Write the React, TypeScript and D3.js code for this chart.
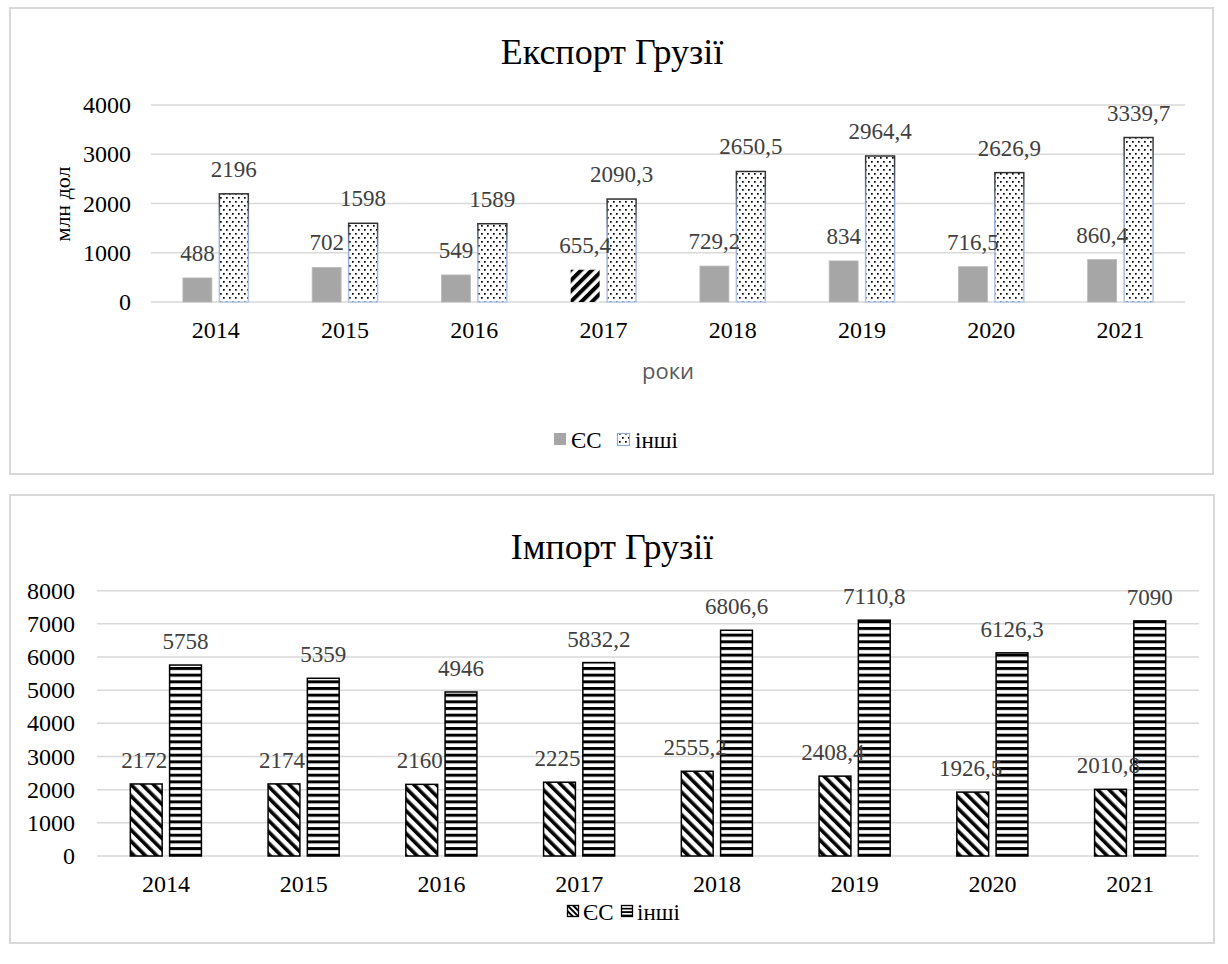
import React from 'react';
import * as d3 from 'd3';

// ---------- DATA ----------
const years: string[] = ['2014', '2015', '2016', '2017', '2018', '2019', '2020', '2021'];
const exportEU: number[] = [488, 702, 549, 655.4, 729.2, 834, 716.5, 860.4];
const exportOther: number[] = [2196, 1598, 1589, 2090.3, 2650.5, 2964.4, 2626.9, 3339.7];
const importEU: number[] = [2172, 2174, 2160, 2225, 2555.2, 2408.4, 1926.5, 2010.8];
const importOther: number[] = [5758, 5359, 4946, 5832.2, 6806.6, 7110.8, 6126.3, 7090];
const exportTicks: number[] = [0, 1000, 2000, 3000, 4000];
const importTicks: number[] = [0, 1000, 2000, 3000, 4000, 5000, 6000, 7000, 8000];
const seriesNames: string[] = ['ЄС', 'інші'];
const exportTitle = 'Експорт Грузії';
const importTitle = 'Імпорт Грузії';
const yAxisTitle = 'млн дол';
const xAxisTitle = 'роки';

const W = 1228;
const H = 964;
const SERIF = '"Liberation Serif", "Times New Roman", serif';
const SANS = '"Open Sans", "Liberation Sans", sans-serif';
const GRID = '#d9d9d9';
const LABEL = '#404040';

const fmt = (v: number) => String(v).replace('.', ',');

export default function App() {
  // ---- export chart scales ----
  const x1 = d3.scaleBand<string>().domain(years).range([151, 1185]).padding(0);
  const y1 = d3.scaleLinear().domain([0, 4000]).range([302, 105]);
  const bw1 = x1.bandwidth() * 0.224;
  const gap1 = x1.bandwidth() * 0.058;

  // ---- import chart scales ----
  const x2 = d3.scaleBand<string>().domain(years).range([97, 1199]).padding(0);
  const y2 = d3.scaleLinear().domain([0, 8000]).range([856, 590.7]);
  const bw2 = x2.bandwidth() * 0.231;
  const gap2 = x2.bandwidth() * 0.054;

  return (
    <svg
      width={W}
      height={H}
      viewBox={`0 0 ${W} ${H}`}
      style={{ position: 'absolute', left: 0, top: 0, background: '#fff' }}
    >
      <defs>
        <pattern id="dots" width={6} height={8} patternUnits="userSpaceOnUse">
          <rect width={6} height={8} fill="#fff" />
          <rect x={1} y={1} width={1.7} height={1.7} fill="#000" />
          <rect x={4} y={5} width={1.7} height={1.7} fill="#000" />
        </pattern>
        <pattern id="upDiag" width={7.5} height={10} patternUnits="userSpaceOnUse" patternTransform="rotate(45)">
          <rect width={7.5} height={10} fill="#fff" />
          <rect width={4} height={10} fill="#000" />
        </pattern>
        <pattern id="downDiag" width={8} height={10} patternUnits="userSpaceOnUse" patternTransform="rotate(-45)">
          <rect width={8} height={10} fill="#fff" />
          <rect width={3.6} height={10} fill="#000" />
        </pattern>
        <pattern id="hStripes" width={8} height={6.67} patternUnits="userSpaceOnUse">
          <rect width={8} height={6.67} fill="#fff" />
          <rect y={0} width={8} height={3} fill="#000" />
        </pattern>
        <pattern id="downDiagSmall" width={4} height={10} patternUnits="userSpaceOnUse" patternTransform="rotate(-45)">
          <rect width={4} height={10} fill="#fff" />
          <rect width={2} height={10} fill="#000" />
        </pattern>
        <pattern id="hStripesSmall" width={8} height={3.4} patternUnits="userSpaceOnUse">
          <rect width={8} height={3.4} fill="#fff" />
          <rect width={8} height={1.7} fill="#000" />
        </pattern>
        <linearGradient id="otherStroke" x1="0" y1="0" x2="0" y2="1">
          <stop offset="0" stopColor="#2f2f2f" />
          <stop offset="0.35" stopColor="#8fa9d8" />
          <stop offset="1" stopColor="#b4c7e7" />
        </linearGradient>
      </defs>

      {/* ============ EXPORT CHART ============ */}
      <rect x={10} y={8} width={1203} height={466} fill="#fff" stroke={GRID} strokeWidth={2} />
      <text x={612} y={64} textAnchor="middle" fontFamily={SERIF} fontSize={36} fill="#000">
        {exportTitle}
      </text>
      {exportTicks.map((t) => (
        <g key={'g1' + t}>
          <line x1={151} x2={1185} y1={y1(t)} y2={y1(t)} stroke={GRID} strokeWidth={1.5} />
          <text x={131} y={y1(t) + 8} textAnchor="end" fontFamily={SERIF} fontSize={24} fill="#000">
            {t}
          </text>
        </g>
      ))}
      <text
        transform={`translate(${70},${204}) rotate(-90)`}
        textAnchor="middle"
        fontFamily={SERIF}
        fontSize={22}
        fill="#000"
      >
        {yAxisTitle}
      </text>
      {years.map((yr, i) => {
        const c = (x1(yr) as number) + x1.bandwidth() / 2;
        const euX = c - gap1 / 2 - bw1;
        const otX = c + gap1 / 2;
        const euTop = y1(exportEU[i]);
        const otTop = y1(exportOther[i]);
        return (
          <g key={'b1' + yr}>
            <rect
              x={euX}
              y={euTop}
              width={bw1}
              height={y1(0) - euTop}
              fill={yr === '2017' ? 'url(#upDiag)' : '#a6a6a6'}
              stroke={yr === '2017' ? 'none' : '#b8b8b8'}
              strokeWidth={0.8}
            />
            <rect
              x={otX}
              y={otTop}
              width={bw1}
              height={y1(0) - otTop}
              fill="url(#dots)"
              stroke="url(#otherStroke)"
              strokeWidth={1.5}
            />
            <text x={euX + bw1 / 2} y={euTop - 17} textAnchor="middle" fontFamily={SERIF} fontSize={23} fill={LABEL}>
              {fmt(exportEU[i])}
            </text>
            <text x={otX + bw1 / 2} y={otTop - 17} textAnchor="middle" fontFamily={SERIF} fontSize={23} fill={LABEL}>
              {fmt(exportOther[i])}
            </text>
            <text x={c} y={338} textAnchor="middle" fontFamily={SERIF} fontSize={24} fill="#000">
              {yr}
            </text>
          </g>
        );
      })}
      <text x={668} y={379} textAnchor="middle" fontFamily={SANS} fontSize={22} fill="#595959">
        {xAxisTitle}
      </text>
      {/* legend */}
      <rect x={554} y={433} width={12} height={12} fill="#a6a6a6" />
      <text x={571} y={448} fontFamily={SERIF} fontSize={23} fill="#000">
        {seriesNames[0]}
      </text>
      <rect x={617.5} y={433.5} width={12} height={12} fill="url(#dots)" stroke="#8fa9d8" strokeWidth={1.2} />
      <text x={635} y={448} fontFamily={SERIF} fontSize={23} fill="#000">
        {seriesNames[1]}
      </text>

      {/* ============ IMPORT CHART ============ */}
      <rect x={10} y={495} width={1204} height={448} fill="#fff" stroke={GRID} strokeWidth={2} />
      <text x={612} y={559} textAnchor="middle" fontFamily={SERIF} fontSize={36} fill="#000">
        {importTitle}
      </text>
      {importTicks.map((t) => (
        <g key={'g2' + t}>
          <line x1={97} x2={1199} y1={y2(t)} y2={y2(t)} stroke={GRID} strokeWidth={1.5} />
          <text x={75} y={y2(t) + 8} textAnchor="end" fontFamily={SERIF} fontSize={24} fill="#000">
            {t}
          </text>
        </g>
      ))}
      {years.map((yr, i) => {
        const c = (x2(yr) as number) + x2.bandwidth() / 2;
        const euX = c - gap2 / 2 - bw2;
        const otX = c + gap2 / 2;
        const euTop = y2(importEU[i]);
        const otTop = y2(importOther[i]);
        return (
          <g key={'b2' + yr}>
            <rect
              x={euX}
              y={euTop}
              width={bw2}
              height={y2(0) - euTop}
              fill="url(#downDiag)"
              stroke="#000"
              strokeWidth={1.5}
            />
            <rect
              x={otX}
              y={otTop}
              width={bw2}
              height={y2(0) - otTop}
              fill="url(#hStripes)"
              stroke="#000"
              strokeWidth={1.5}
            />
            <text x={euX + bw2 / 2 - 2} y={euTop - 16} textAnchor="middle" fontFamily={SERIF} fontSize={23} fill={LABEL}>
              {fmt(importEU[i])}
            </text>
            <text x={otX + bw2 / 2} y={otTop - 16} textAnchor="middle" fontFamily={SERIF} fontSize={23} fill={LABEL}>
              {fmt(importOther[i])}
            </text>
            <text x={c} y={892} textAnchor="middle" fontFamily={SERIF} fontSize={24} fill="#000">
              {yr}
            </text>
          </g>
        );
      })}
      {/* legend */}
      <rect x={567.5} y={905.5} width={11} height={11} fill="url(#downDiagSmall)" stroke="#000" strokeWidth={1.3} />
      <text x={583} y={920} fontFamily={SERIF} fontSize={23} fill="#000">
        {seriesNames[0]}
      </text>
      <rect x={621.5} y={905.5} width={11} height={11} fill="url(#hStripesSmall)" stroke="#000" strokeWidth={1.3} />
      <text x={637} y={920} fontFamily={SERIF} fontSize={23} fill="#000">
        {seriesNames[1]}
      </text>
    </svg>
  );
}
